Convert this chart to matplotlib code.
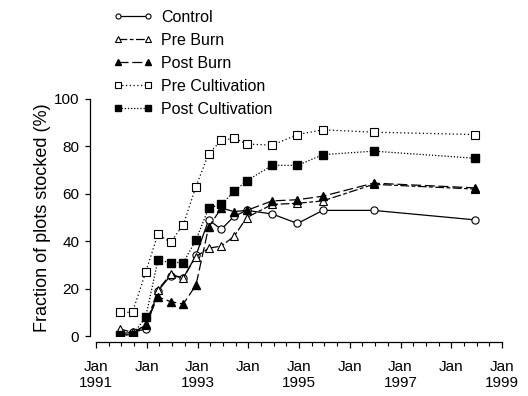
import matplotlib
matplotlib.use('Agg')
import matplotlib.pyplot as plt
from matplotlib.ticker import MultipleLocator

plt.rcParams['font.family'] = ['Liberation Sans', 'DejaVu Sans']

# sampling dates (decimal years)
dates = [1991.47, 1991.72, 1991.98, 1992.22, 1992.47, 1992.72, 1992.97, 1993.22,
         1993.47, 1993.72, 1993.97, 1994.47, 1994.97, 1995.47, 1996.47, 1998.47]

control = [1, 1.5, 3, 19, 25.5, 24.5, 34, 49, 45, 50.5, 53, 51.5, 47.5, 53, 53, 49]
pre_burn = [3, 1.5, 4.5, 19.5, 26, 24.5, 33.5, 37, 38, 42, 50, 55.5, 56, 57, 64, 62]
post_burn = [0.5, 0.5, 5, 16.5, 14.5, 13.5, 21.5, 46, 54, 52.5, 53, 57, 57.5, 59, 64.5, 62.5]
pre_cult = [10, 10, 27, 43, 39.5, 47, 63, 77, 82.5, 83.5, 81, 80.5, 85, 87, 86, 85]
post_cult = [0.5, 0.5, 8, 32, 31, 31, 40.5, 54, 55.5, 61, 65.5, 72, 72, 76.5, 78, 75]

years = list(range(1991, 2000))
xlabels = ['Jan\n%d' % y if y % 2 == 1 else 'Jan' for y in years]

fig = plt.figure(figsize=(5.28, 3.96), dpi=100)
ax = fig.add_axes([96/528, 60/396, 406/528, 237/396])

ms = 5.2
lw = 0.9
ax.plot(dates, control, '-', color='k', lw=lw, marker='o', ms=ms,
        mfc='white', mec='k', mew=0.8, label='Control')
ax.plot(dates, pre_burn, color='k', lw=lw, dashes=(7, 2, 3, 2), marker='^', ms=ms,
        mfc='white', mec='k', mew=0.8, label='Pre Burn')
ax.plot(dates, post_burn, color='k', lw=lw, dashes=(8, 3), marker='^', ms=ms,
        mfc='k', mec='k', label='Post Burn')
ax.plot(dates, pre_cult, color='k', lw=lw, dashes=(1, 2), marker='s', ms=ms,
        mfc='white', mec='k', mew=0.8, label='Pre Cultivation')
ax.plot(dates, post_cult, color='k', lw=lw, dashes=(1, 1.5), marker='s', ms=ms,
        mfc='k', mec='k', label='Post Cultivation')

ax.set_xlim(1991, 1999)
ax.set_ylim(0, 100)
ax.set_xticks(years)
ax.set_xticklabels(xlabels, linespacing=1.45)
ax.xaxis.set_minor_locator(MultipleLocator(0.25))
ax.set_yticks(range(0, 101, 20))

for s in ['top', 'right']:
    ax.spines[s].set_visible(False)
ax.spines['left'].set_position(('outward', 4.5))
ax.spines['bottom'].set_position(('outward', 4.5))
ax.spines['left'].set_bounds(0, 100)
ax.spines['bottom'].set_bounds(1991, 1999)
for s in ['left', 'bottom']:
    ax.spines[s].set_linewidth(0.9)

ax.tick_params(axis='y', length=3.5, width=0.9, pad=4, labelsize=11)
ax.tick_params(axis='x', which='major', length=4, width=0.9, pad=8.5, labelsize=11)
ax.tick_params(axis='x', which='minor', length=3, width=0.8)

ax.set_ylabel('Fraction of plots stocked (%)', fontsize=13, labelpad=2)

ax.legend(loc='upper left', bbox_to_anchor=(113/528, 1 - 10/396),
          bbox_transform=fig.transFigure, frameon=False, fontsize=11.5,
          numpoints=2, markerscale=0.7, handlelength=2.5, handletextpad=0.5,
          labelspacing=0.5, borderpad=0, borderaxespad=0)

fig.savefig('out.png', dpi=100)
